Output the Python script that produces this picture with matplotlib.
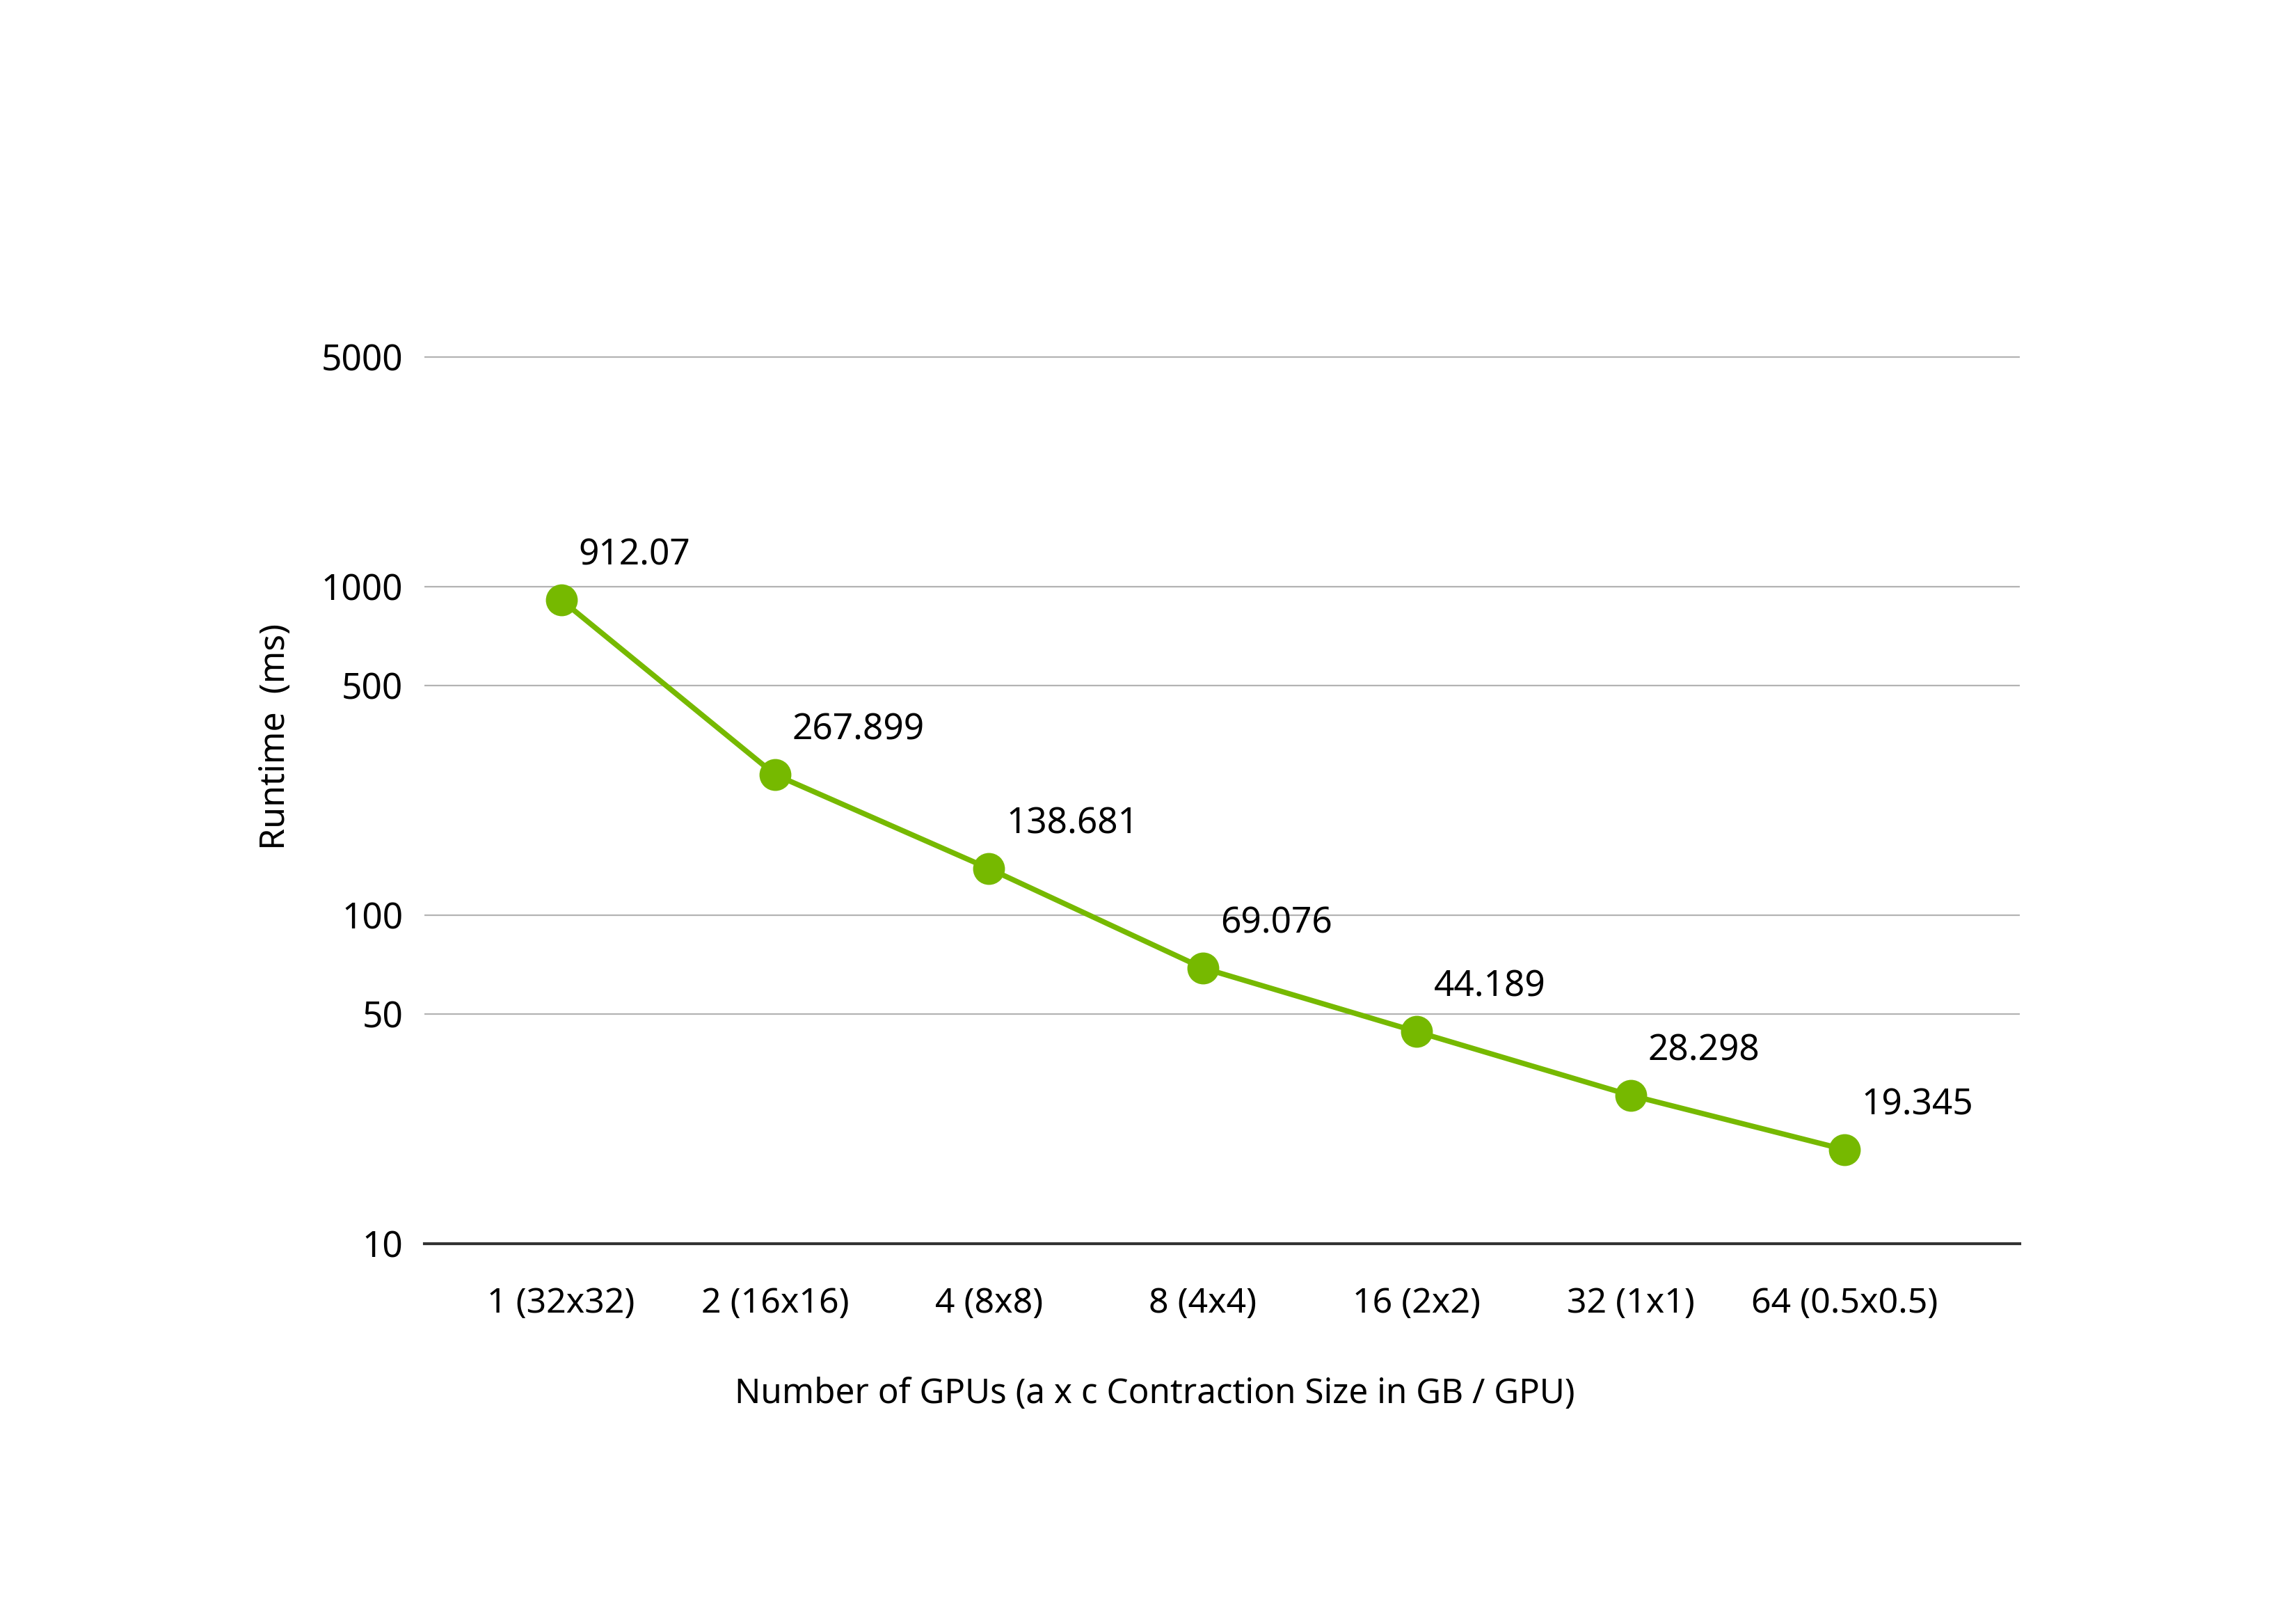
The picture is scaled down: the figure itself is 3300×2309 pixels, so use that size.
"""Runtime vs number of GPUs, log-scale line chart."""

import matplotlib

matplotlib.use("Agg")

import matplotlib.pyplot as plt
from matplotlib.ticker import FixedLocator, NullLocator

plt.rcParams["font.family"] = ["Noto Sans", "DejaVu Sans"]

GREEN = "#76b900"

categories = [
    "1 (32x32)",
    "2 (16x16)",
    "4 (8x8)",
    "8 (4x4)",
    "16 (2x2)",
    "32 (1x1)",
    "64 (0.5x0.5)",
]
runtime_ms = [912.07, 267.899, 138.681, 69.076, 44.189, 28.298, 19.345]
value_labels = ["912.07", "267.899", "138.681", "69.076", "44.189", "28.298", "19.345"]
y_ticks = [10, 50, 100, 500, 1000, 5000]

x_label = "Number of GPUs (a x c Contraction Size in GB / GPU)"
y_label = "Runtime  (ms)"


def main() -> None:
    fig = plt.figure(figsize=(33, 23.09), dpi=100)
    ax = fig.add_axes([0.1848, 0.2261, 0.8797 - 0.1848, 0.8259 - 0.2261])

    xs = list(range(len(categories)))
    ax.plot(
        xs,
        runtime_ms,
        color=GREEN,
        linewidth=5.5,
        marker="o",
        markersize=32,
        zorder=3,
        clip_on=False,
    )

    for x, y, text in zip(xs, runtime_ms, value_labels):
        ax.annotate(
            text,
            (x, y),
            xytext=(18, 46),
            textcoords="offset points",
            ha="left",
            va="center",
            fontsize=37,
            color="black",
        )

    ax.set_yscale("log")
    ax.set_ylim(10, 8600)
    ax.set_xlim(-0.64, 6.82)

    ax.yaxis.set_major_locator(FixedLocator(y_ticks))
    ax.yaxis.set_minor_locator(NullLocator())
    ax.set_yticklabels([str(t) for t in y_ticks])
    ax.set_xticks(xs)
    ax.set_xticklabels(categories)

    ax.tick_params(axis="both", length=0, colors="black")
    ax.tick_params(axis="y", pad=22, labelsize=37)
    ax.tick_params(axis="x", pad=44, labelsize=36)

    ax.grid(axis="y", color="#b3b3b3", linewidth=1.6)
    ax.set_axisbelow(True)
    for side in ("top", "left", "right"):
        ax.spines[side].set_visible(False)
    ax.spines["bottom"].set_color("#333333")
    ax.spines["bottom"].set_linewidth(3)
    ax.spines["bottom"].set_zorder(4)

    fig.text(0.12, 0.5415, y_label, rotation=90, ha="center", va="center", fontsize=36)
    fig.text(0.503, 1 - 2003 / 2309, x_label, ha="center", va="center", fontsize=35.5)

    fig.savefig("out.png", dpi=100, facecolor="white")
    plt.close(fig)


if __name__ == "__main__":
    main()
